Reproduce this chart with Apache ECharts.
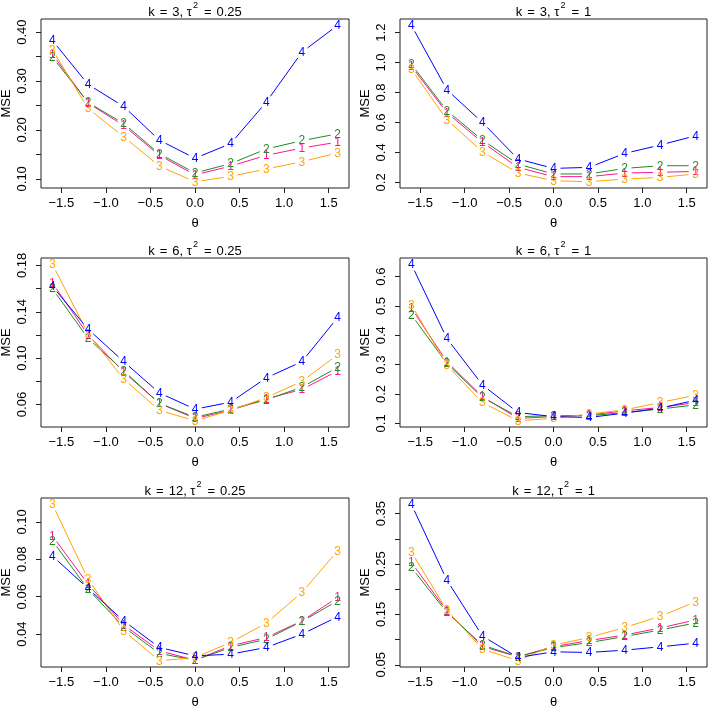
<!DOCTYPE html>
<html><head><meta charset="utf-8">
<script src="https://cdn.jsdelivr.net/npm/echarts@6/dist/echarts.min.js"></script>
<style>html,body{margin:0;padding:0;background:#fff}#c{width:708px;height:708px}</style>
</head><body><div id="c"></div>
<script>
// ---- data ----
const theta = [-1.6, -1.2, -0.8, -0.4, 0, 0.4, 0.8, 1.2, 1.6];
const seriesLabels = ['1', '2', '3', '4'];

const k3_t025_s1 = [0.355, 0.255, 0.209, 0.148, 0.108, 0.126, 0.148, 0.163, 0.175];
const k3_t025_s2 = [0.349, 0.256, 0.213, 0.151, 0.112, 0.131, 0.161, 0.178, 0.192];
const k3_t025_s3 = [0.364, 0.244, 0.186, 0.126, 0.094, 0.105, 0.120, 0.135, 0.153];
const k3_t025_s4 = [0.383, 0.293, 0.248, 0.179, 0.142, 0.172, 0.257, 0.359, 0.414];

const k3_t1_s1 = [0.975, 0.665, 0.467, 0.300, 0.238, 0.238, 0.262, 0.267, 0.273];
const k3_t1_s2 = [0.989, 0.678, 0.482, 0.322, 0.256, 0.256, 0.293, 0.311, 0.311];
const k3_t1_s3 = [0.956, 0.618, 0.404, 0.262, 0.211, 0.204, 0.222, 0.233, 0.256];
const k3_t1_s4 = [1.249, 0.818, 0.600, 0.356, 0.293, 0.300, 0.393, 0.449, 0.511];

const k6_t025_s1 = [0.165, 0.120, 0.088, 0.061, 0.048, 0.055, 0.065, 0.073, 0.089];
const k6_t025_s2 = [0.160, 0.117, 0.089, 0.061, 0.049, 0.056, 0.064, 0.075, 0.092];
const k6_t025_s3 = [0.181, 0.121, 0.082, 0.055, 0.046, 0.055, 0.066, 0.080, 0.103];
const k6_t025_s4 = [0.162, 0.125, 0.097, 0.070, 0.056, 0.062, 0.083, 0.097, 0.135];

const k6_t1_s1 = [0.493, 0.310, 0.191, 0.117, 0.123, 0.128, 0.143, 0.154, 0.171];
const k6_t1_s2 = [0.470, 0.304, 0.188, 0.123, 0.126, 0.126, 0.137, 0.149, 0.163];
const k6_t1_s3 = [0.504, 0.298, 0.171, 0.109, 0.117, 0.132, 0.146, 0.171, 0.196];
const k6_t1_s4 = [0.642, 0.389, 0.231, 0.137, 0.123, 0.120, 0.135, 0.152, 0.179];

const k12_t025_s1 = [0.0925, 0.0667, 0.0450, 0.0311, 0.0261, 0.0338, 0.0382, 0.0471, 0.0596];
const k12_t025_s2 = [0.0899, 0.0640, 0.0439, 0.0297, 0.0261, 0.0329, 0.0373, 0.0468, 0.0578];
const k12_t025_s3 = [0.1094, 0.0694, 0.0418, 0.0258, 0.0275, 0.0356, 0.0459, 0.0623, 0.0845];
const k12_t025_s4 = [0.0818, 0.0644, 0.0471, 0.0329, 0.0284, 0.0293, 0.0329, 0.0400, 0.0493];

const k12_t1_s1 = [0.253, 0.157, 0.086, 0.066, 0.086, 0.098, 0.109, 0.123, 0.139];
const k12_t1_s2 = [0.243, 0.154, 0.089, 0.066, 0.084, 0.094, 0.106, 0.119, 0.133];
const k12_t1_s3 = [0.274, 0.158, 0.081, 0.058, 0.089, 0.104, 0.124, 0.146, 0.175];
const k12_t1_s4 = [0.3685, 0.218, 0.107, 0.0645, 0.0757, 0.0744, 0.079, 0.0856, 0.0929];

const panelK = ['3', '3', '6', '6', '12', '12'];
const panelTau2 = ['0.25', '1', '0.25', '1', '0.25', '1'];

const xTickValues = [-1.5, -1.0, -0.5, 0.0, 0.5, 1.0, 1.5];

const p1_yTicks = [0.10, 0.15, 0.20, 0.25, 0.30, 0.35, 0.40];
const p1_yLabels = [0.10, 0.20, 0.30, 0.40];
const p2_yTicks = [0.2, 0.4, 0.6, 0.8, 1.0, 1.2];
const p2_yLabels = [0.2, 0.4, 0.6, 0.8, 1.0, 1.2];
const p3_yTicks = [0.06, 0.08, 0.10, 0.12, 0.14, 0.16, 0.18];
const p3_yLabels = [0.06, 0.10, 0.14, 0.18];
const p4_yTicks = [0.1, 0.2, 0.3, 0.4, 0.5, 0.6];
const p4_yLabels = [0.1, 0.2, 0.3, 0.4, 0.5, 0.6];
const p5_yTicks = [0.04, 0.06, 0.08, 0.10];
const p5_yLabels = [0.04, 0.06, 0.08, 0.10];
const p6_yTicks = [0.05, 0.10, 0.15, 0.20, 0.25, 0.30, 0.35];
const p6_yLabels = [0.05, 0.15, 0.25, 0.35];

// ---- build ----
const panelsData = [
  [k3_t025_s1, k3_t025_s2, k3_t025_s3, k3_t025_s4],
  [k3_t1_s1, k3_t1_s2, k3_t1_s3, k3_t1_s4],
  [k6_t025_s1, k6_t025_s2, k6_t025_s3, k6_t025_s4],
  [k6_t1_s1, k6_t1_s2, k6_t1_s3, k6_t1_s4],
  [k12_t025_s1, k12_t025_s2, k12_t025_s3, k12_t025_s4],
  [k12_t1_s1, k12_t1_s2, k12_t1_s3, k12_t1_s4]
];
const yTicksAll = [p1_yTicks, p2_yTicks, p3_yTicks, p4_yTicks, p5_yTicks, p6_yTicks];
const yLabelsAll = [p1_yLabels, p2_yLabels, p3_yLabels, p4_yLabels, p5_yLabels, p6_yLabels];
const yDecimals = [2, 1, 2, 1, 2, 2];

const colors = ['#FF1493', '#228B22', '#FFA500', '#0000FF'];
const FONT = '"Liberation Sans", Arial, Helvetica, sans-serif';
const GAP = 7;

const colLeft = [41, 400];
const colWidth = [308, 307];
const rowTop = [19, 258, 498];
const gridH = 169;

const grids = [], xAxes = [], yAxes = [], series = [], graphics = [];

function minus(s) { return s.replace('-', '\u2212'); }

function makeRender(color, label, vals) {
  return function (params, api) {
    const i = api.value(2);
    const p = api.coord([api.value(0), api.value(1)]);
    const children = [];
    if (i < theta.length - 1) {
      const q = api.coord([theta[i + 1], vals[i + 1]]);
      const dx = q[0] - p[0], dy = q[1] - p[1], d = Math.hypot(dx, dy);
      if (d > 2 * GAP) {
        const ux = dx / d, uy = dy / d;
        children.push({ type: 'line', shape: { x1: p[0] + ux * GAP, y1: p[1] + uy * GAP, x2: q[0] - ux * GAP, y2: q[1] - uy * GAP },
          style: { stroke: color, lineWidth: 1 } });
      }
    }
    children.push({ type: 'text', style: { text: label, x: p[0], y: p[1] + 0.5, fill: color, font: '12px ' + FONT, align: 'center', verticalAlign: 'middle' } });
    return { type: 'group', children };
  };
}

for (let p = 0; p < 6; p++) {
  const c = p % 2, r = Math.floor(p / 2);
  const left = colLeft[c], top = rowTop[r], w = colWidth[c];
  grids.push({ left, top, width: w, height: gridH, show: true, borderColor: '#222', borderWidth: 1, backgroundColor: 'transparent', containLabel: false });
  const all = [].concat(...panelsData[p]);
  const lo = Math.min(...all), hi = Math.max(...all), ext = (hi - lo) * 0.04;
  const dec = yDecimals[p];
  xAxes.push({
    type: 'value', gridIndex: p, min: -1.728, max: 1.728, position: 'bottom',
    axisLine: { show: false, onZero: false }, splitLine: { show: false },
    axisTick: { show: true, inside: false, length: 5, lineStyle: { color: '#222' }, customValues: xTickValues },
    axisLabel: { show: true, margin: 9, color: '#000', fontSize: 13, fontFamily: FONT, customValues: xTickValues,
      formatter: v => minus(v.toFixed(1)) }
  });
  yAxes.push({
    type: 'value', gridIndex: p, min: lo - ext, max: hi + ext, position: 'left',
    axisLine: { show: false, onZero: false }, splitLine: { show: false },
    axisTick: { show: true, inside: false, length: 5, lineStyle: { color: '#222' }, customValues: yTicksAll[p] },
    axisLabel: { show: true, margin: 12, rotate: 90, color: '#000', fontSize: 13, fontFamily: FONT, customValues: yLabelsAll[p],
      formatter: v => v.toFixed(dec) }
  });
  panelsData[p].forEach((vals, s) => {
    series.push({
      type: 'custom', xAxisIndex: p, yAxisIndex: p, coordinateSystem: 'cartesian2d', silent: true, clip: false,
      z: 2 + s,
      data: vals.map((v, i) => [theta[i], v, i]),
      renderItem: makeRender(colors[s], seriesLabels[s], vals)
    });
  });
  const cx = left + w / 2;
  graphics.push({ type: 'text', x: cx, y: top - 9, style: {
    text: '{a|k}{e|=}{a|' + panelK[p] + ', \u03C4}{s|2}{e|=}{a|' + panelTau2[p] + '}',
    align: 'center', verticalAlign: 'middle', fill: '#000',
    rich: {
      a: { fontSize: 13, fontFamily: FONT, lineHeight: 17, verticalAlign: 'bottom' },
      e: { fontSize: 13, fontFamily: FONT, lineHeight: 17, verticalAlign: 'bottom', padding: [0, 5, 0, 5] },
      s: { fontSize: 9, fontFamily: FONT, lineHeight: 17, verticalAlign: 'top', padding: [0, 1, 0, 1] }
    }
  } });
  graphics.push({ type: 'text', x: cx, y: top + gridH + 35, style: { text: '\u03B8', font: '13px ' + FONT, fill: '#000', align: 'center', verticalAlign: 'middle' } });
  graphics.push({ type: 'text', x: c === 0 ? 6 : 365, y: top + gridH / 2, rotation: Math.PI / 2, style: { text: 'MSE', font: '13px ' + FONT, fill: '#000', align: 'center', verticalAlign: 'middle' } });
}

const chart = echarts.init(document.getElementById('c'), null, { renderer: 'canvas' });
chart.setOption({
  animation: false,
  backgroundColor: '#fff',
  grid: grids, xAxis: xAxes, yAxis: yAxes, series, graphic: graphics
});
</script>
</body></html>
